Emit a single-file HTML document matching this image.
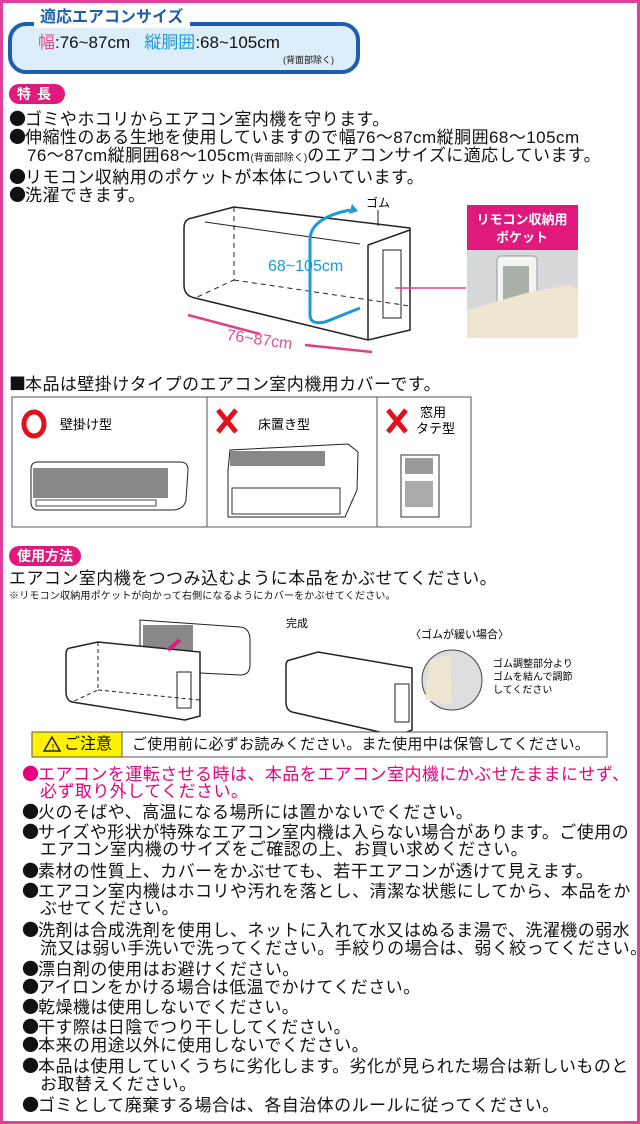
<!DOCTYPE html>
<html><head><meta charset="utf-8">
<style>
*{margin:0;padding:0;box-sizing:border-box}
body{width:640px;height:1124px;position:relative;background:#fff;overflow:hidden;font-family:"Liberation Sans","Noto Sans CJK JP",sans-serif;color:#111}
.frame{position:absolute;left:0;top:0;width:640px;height:1124px;border:3px solid #e0409a;}
.t{position:absolute;white-space:nowrap;font-size:17px;line-height:18px;letter-spacing:0.45px}
.b{font-family:"Noto Sans CJK JP",sans-serif;letter-spacing:-1px}
.r{color:#e5007f}
.tag{position:absolute;background:#e0197d;color:#fff;font-weight:bold;font-size:14px;line-height:20px;border-radius:10px;padding:0 8px}
svg{position:absolute;left:0;top:0}
</style></head><body>
<div class="frame"></div>
<div style="position:absolute;left:8px;top:22px;width:352px;height:52px;border:4px solid #1b5fae;border-radius:18px;background:#ddeef9"></div>
<div style="position:absolute;left:34px;top:8px;background:#fff;padding:0 6px;font-weight:bold;color:#1b5fae;font-size:16px;line-height:20px">適応エアコンサイズ</div>
<div class="t" style="left:38px;top:33px;font-size:17px;line-height:20px;letter-spacing:0"><span style="color:#e0508f">幅</span>:76~87cm&nbsp;&nbsp;&nbsp;<span style="color:#1a9ad8">縦胴囲</span>:68~105cm</div>
<div class="t" style="left:283px;top:54px;font-size:9px;line-height:12px;letter-spacing:0">(背面部除く)</div>
<div class="tag" style="left:9px;top:84px;letter-spacing:6px">特長</div>
<div class="t" style="left:9px;top:109px"><span class="b">●</span>ゴミやホコリからエアコン室内機を守ります。</div>
<div class="t" style="left:9px;top:127px"><span class="b">●</span>伸縮性のある生地を使用していますので幅76～87cm縦胴囲68～105cm</div>
<div class="t" style="left:27px;top:147px">76～87cm縦胴囲68～105cm<span style="font-size:10px;letter-spacing:0">(背面部除く)</span>のエアコンサイズに適応しています。</div>
<div class="t" style="left:9px;top:167px"><span class="b">●</span>リモコン収納用のポケットが本体についています。</div>
<div class="t" style="left:9px;top:185px"><span class="b">●</span>洗濯できます。</div>
<svg width="640" height="1124">
 <path d="M192,218 L234,207 L410,228 L410,330 L368,340 L195,298 Q184,296 184,285 L184,228 Q184,219 192,218Z" fill="#fff" stroke="#222" stroke-width="1.5"/>
 <path d="M234,207 L234,280 L195,298 M234,280 L410,306" stroke="#222" stroke-dasharray="5,4" fill="none"/>
 <path d="M368,245 L368,340 M368,245 L410,230" stroke="#222" fill="none" stroke-width="1.5"/>
 <rect x="383" y="250" width="18" height="68" fill="none" stroke="#222"/>
 <line x1="205" y1="222" x2="360" y2="244" stroke="#222"/>
 <line x1="395" y1="288" x2="466" y2="288" stroke="#e0408a" stroke-width="1.5"/>
 <path d="M350,210 Q310,218 310,240 L310,315 Q310,325 325,322 L360,308" stroke="#1a9ad8" stroke-width="3" fill="none"/>
 <path d="M352,204 L358,211 L349,214Z" fill="#1a9ad8"/>
 <path d="M188,315 L260,334 M305,345 L372,352" stroke="#e0408a" stroke-width="2.5"/>
 <text x="226" y="340" font-size="16" fill="#e0508f" transform="rotate(8 226 340)" font-family="Liberation Sans">76~87cm</text>
 <text x="268" y="271" font-size="16" fill="#1a9ad8" font-family="Liberation Sans">68~105cm</text>
 <text x="366" y="207" font-size="12" font-family="Noto Sans CJK JP">ゴム</text>
 <line x1="378" y1="210" x2="378" y2="226" stroke="#222"/>
 <rect x="467" y="250" width="111" height="88" fill="#d6d8da"/>
 <rect x="497" y="256" width="40" height="62" rx="4" fill="#f4f4f4" stroke="#999"/>
 <rect x="503" y="266" width="26" height="36" fill="#a9b0a8"/>
 <path d="M467,310 L530,292 L570,285 L578,290 L578,338 L467,338Z" fill="#efe6d2"/>
 <rect x="467" y="205" width="111" height="45" fill="#e0197d"/>
 <text x="522" y="224" font-size="13" font-weight="bold" fill="#fff" text-anchor="middle" font-family="Noto Sans CJK JP">リモコン収納用</text>
 <text x="522" y="242" font-size="13" font-weight="bold" fill="#fff" text-anchor="middle" font-family="Noto Sans CJK JP">ポケット</text>
 <rect x="12" y="397" width="459" height="130" fill="#fff" stroke="#555"/>
 <line x1="207" y1="397" x2="207" y2="527" stroke="#555"/>
 <line x1="377" y1="397" x2="377" y2="527" stroke="#555"/>
 <ellipse cx="34" cy="424" rx="10" ry="12" fill="none" stroke="#e2101b" stroke-width="5"/>
 <path d="M218,410 L236,432 M236,410 L218,432 M388,410 L406,432 M406,410 L388,432" stroke="#e2101b" stroke-width="5"/>
 <text x="60" y="429" font-size="13" font-family="Noto Sans CJK JP">壁掛け型</text>
 <text x="258" y="429" font-size="13" font-family="Noto Sans CJK JP">床置き型</text>
 <text x="420" y="417" font-size="13" font-family="Noto Sans CJK JP">窓用</text>
 <text x="416" y="433" font-size="13" font-family="Noto Sans CJK JP">タテ型</text>
 <path d="M38,462 L180,462 Q188,462 188,470 L186,500 Q184,510 172,510 L38,510 Q31,510 31,502 L31,469 Q31,462 38,462Z" fill="#fff" stroke="#222"/>
 <rect x="33" y="468" width="135" height="30" fill="#888"/>
 <rect x="36" y="500" width="120" height="6" fill="#fff" stroke="#444"/>
 <path d="M228,470 L230,450 L348,444 L358,452 L357,490 L345,517 L228,517Z" fill="#fff" stroke="#222"/>
 <rect x="230" y="451" width="95" height="15" fill="#888"/>
 <rect x="232" y="488" width="108" height="26" fill="#fff" stroke="#333"/>
 <rect x="401" y="455" width="38" height="62" fill="#fff" stroke="#333"/>
 <rect x="405" y="458" width="28" height="16" fill="#999"/>
 <rect x="405" y="481" width="28" height="26" fill="#aaa"/>
 <path d="M140,620 L240,627 Q250,628 250,640 L250,665 Q250,675 240,675 L140,670Z" fill="#fff" stroke="#222"/>
 <rect x="143" y="625" width="50" height="35" fill="#888"/>
 <path d="M70,648 L98,642 L200,652 L200,716 L185,720 L72,702 Q66,700 66,692 L66,655 Q66,648 70,648Z" fill="#fff" stroke="#222" stroke-width="1.5"/>
 <path d="M98,642 L98,690 L72,702 M98,690 L200,700" stroke="#222" stroke-dasharray="4,3" fill="none"/>
 <rect x="177" y="672" width="14" height="36" fill="none" stroke="#222"/>
 <path d="M168,650 L180,640" stroke="#e0197d" stroke-width="4"/>
 <path d="M290,660 L318,652 L412,668 L412,730 L397,736 L292,712 Q286,710 286,702 L286,666 Q286,660 290,660Z" fill="#fff" stroke="#222" stroke-width="1.5"/>
 <rect x="395" y="684" width="14" height="38" fill="none" stroke="#222"/>
 <circle cx="452" cy="680" r="30" fill="#ddd" stroke="#444"/>
 <path d="M430,660 L450,655 L452,705 L425,700Z" fill="#efe6d2"/>
 <text x="286" y="627" font-size="11" font-family="Noto Sans CJK JP">完成</text>
 <text x="410" y="638" font-size="11" font-family="Noto Sans CJK JP">〈ゴムが緩い場合〉</text>
 <text x="493" y="667" font-size="10" font-family="Noto Sans CJK JP">ゴム調整部分より</text>
 <text x="493" y="680" font-size="10" font-family="Noto Sans CJK JP">ゴムを結んで調節</text>
 <text x="493" y="693" font-size="10" font-family="Noto Sans CJK JP">してください</text>
 <rect x="32" y="732" width="575" height="25" fill="#fff" stroke="#555"/>
 <rect x="32" y="732" width="90" height="25" fill="#fff200" stroke="#555"/>
 <path d="M44,751 L52,737 L60,751Z" fill="none" stroke="#222" stroke-width="1.5"/>
 <text x="53" y="750" font-size="8" text-anchor="middle">!</text>
</svg>
<div class="t" style="left:9px;top:374px"><span class="b">■</span>本品は壁掛けタイプのエアコン室内機用カバーです。</div>
<div class="tag" style="left:9px;top:546px">使用方法</div>
<div class="t" style="left:9px;top:570px">エアコン室内機をつつみ込むように本品をかぶせてください。</div>
<div class="t" style="left:9px;top:590px;font-size:10px;line-height:13px;letter-spacing:0.2px">※リモコン収納用ポケットが向かって右側になるようにカバーをかぶせてください。</div>
<div class="t" style="left:64px;top:735px;font-size:16px;line-height:20px;letter-spacing:0">ご注意</div>
<div class="t" style="left:132px;top:735px;font-size:15px;line-height:19px;letter-spacing:0.3px">ご使用前に必ずお読みください。また使用中は保管してください。</div>
<div class="t r" style="left:22px;top:764px"><span class="b">●</span>エアコンを運転させる時は、本品をエアコン室内機にかぶせたままにせず、</div>
<div class="t r" style="left:40px;top:783px">必ず取り外してください。</div>
<div class="t" style="left:22px;top:802px"><span class="b">●</span>火のそばや、高温になる場所には置かないでください。</div>
<div class="t" style="left:22px;top:822px"><span class="b">●</span>サイズや形状が特殊なエアコン室内機は入らない場合があります。ご使用の</div>
<div class="t" style="left:40px;top:841px">エアコン室内機のサイズをご確認の上、お買い求めください。</div>
<div class="t" style="left:22px;top:861px"><span class="b">●</span>素材の性質上、カバーをかぶせても、若干エアコンが透けて見えます。</div>
<div class="t" style="left:22px;top:881px"><span class="b">●</span>エアコン室内機はホコリや汚れを落とし、清潔な状態にしてから、本品をか</div>
<div class="t" style="left:40px;top:900px">ぶせてください。</div>
<div class="t" style="left:22px;top:920px"><span class="b">●</span>洗剤は合成洗剤を使用し、ネットに入れて水又はぬるま湯で、洗濯機の弱水</div>
<div class="t" style="left:40px;top:940px">流又は弱い手洗いで洗ってください。手絞りの場合は、弱く絞ってください。</div>
<div class="t" style="left:22px;top:959px"><span class="b">●</span>漂白剤の使用はお避けください。</div>
<div class="t" style="left:22px;top:977px"><span class="b">●</span>アイロンをかける場合は低温でかけてください。</div>
<div class="t" style="left:22px;top:997px"><span class="b">●</span>乾燥機は使用しないでください。</div>
<div class="t" style="left:22px;top:1017px"><span class="b">●</span>干す際は日陰でつり干ししてください。</div>
<div class="t" style="left:22px;top:1035px"><span class="b">●</span>本来の用途以外に使用しないでください。</div>
<div class="t" style="left:22px;top:1056px"><span class="b">●</span>本品は使用していくうちに劣化します。劣化が見られた場合は新しいものと</div>
<div class="t" style="left:40px;top:1076px">お取替えください。</div>
<div class="t" style="left:22px;top:1095px"><span class="b">●</span>ゴミとして廃棄する場合は、各自治体のルールに従ってください。</div>
</body></html>
